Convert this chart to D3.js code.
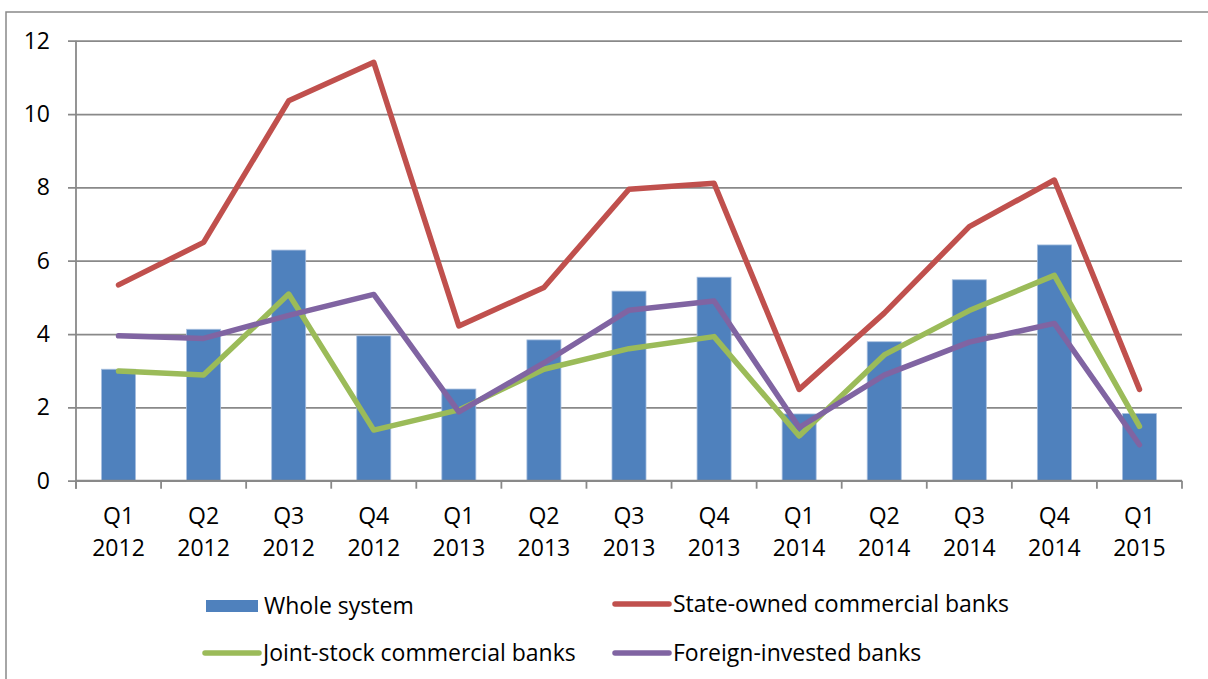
<!DOCTYPE html>
<html>
<head>
<meta charset="utf-8">
<script src="https://cdn.jsdelivr.net/npm/d3@7"></script>
<style>
  html, body { margin: 0; padding: 0; background: #fff; }
  svg { display: block; }
  text { font-family: "Open Sans", "Noto Sans", sans-serif; fill: #000; }
</style>
</head>
<body>
<script>
// Quarterly indicator by bank group, Q1 2012 – Q1 2015
const quarters = ["Q1 2012", "Q2 2012", "Q3 2012", "Q4 2012",
                  "Q1 2013", "Q2 2013", "Q3 2013", "Q4 2013",
                  "Q1 2014", "Q2 2014", "Q3 2014", "Q4 2014",
                  "Q1 2015"];
const wholeSystem = [3.04, 4.13, 6.29, 3.95, 2.50, 3.84, 5.17, 5.55, 1.82, 3.79, 5.48, 6.43, 1.83];
const stateOwned  = [5.34, 6.50, 10.36, 11.41, 4.22, 5.27, 7.95, 8.11, 2.49, 4.57, 6.93, 8.20, 2.49];
const jointStock  = [2.99, 2.88, 5.09, 1.38, 1.93, 3.04, 3.60, 3.93, 1.22, 3.43, 4.64, 5.60, 1.48];
const foreignInv  = [3.95, 3.88, 4.51, 5.08, 1.88, 3.21, 4.65, 4.90, 1.45, 2.88, 3.78, 4.29, 0.98];
const yTicks = [0, 2, 4, 6, 8, 10, 12];

const lineSeries = [
  { name: "State-owned commercial banks", values: stateOwned, color: "#C0504D" },
  { name: "Joint-stock commercial banks", values: jointStock, color: "#9BBB59" },
  { name: "Foreign-invested banks",       values: foreignInv, color: "#8064A2" }
];
const barColor = "#4F81BD";
const gridColor = "#898989";
const fontSize = 23;

const W = 1208, H = 679;
const plot = { left: 76, right: 1182, top: 40.7, bottom: 480.7 };

const svg = d3.select("body").append("svg")
  .attr("width", W).attr("height", H);

// Chart frame
svg.append("rect")
  .attr("x", 6).attr("y", 12)
  .attr("width", W + 20).attr("height", H + 20)
  .attr("fill", "none").attr("stroke", gridColor).attr("stroke-width", 1.5);

const x = d3.scaleBand().domain(quarters)
  .range([plot.left, plot.right]).paddingInner(0).paddingOuter(0);
const y = d3.scaleLinear().domain([0, 12]).range([plot.bottom, plot.top]);

// Y axis with gridlines that run across the plot
const yAxis = svg.append("g")
  .attr("transform", `translate(${plot.left},0)`)
  .call(d3.axisLeft(y).tickValues(yTicks)
    .tickSize(-(plot.right - plot.left)).tickSizeOuter(0).tickPadding(26));
yAxis.select(".domain").remove();
yAxis.selectAll(".tick line")
  .attr("x1", -8)
  .attr("stroke", gridColor).attr("stroke-width", 1.8);
yAxis.selectAll(".tick text")
  .attr("font-size", fontSize)
  .attr("font-family", "'Open Sans', sans-serif")
  .attr("fill", "#000");

// Vertical axis line
svg.append("line")
  .attr("x1", plot.left).attr("x2", plot.left)
  .attr("y1", plot.top).attr("y2", plot.bottom + 8)
  .attr("stroke", gridColor).attr("stroke-width", 1.8);

// Bars
svg.append("g").selectAll("rect")
  .data(quarters)
  .join("rect")
  .attr("x", d => x(d) + x.bandwidth() * 0.3)
  .attr("width", x.bandwidth() * 0.4)
  .attr("y", (d, i) => y(wholeSystem[i]))
  .attr("height", (d, i) => y(0) - y(wholeSystem[i]))
  .attr("fill", barColor)
  .attr("stroke", "#a7bfdf").attr("stroke-width", 0.8);

// X axis: baseline and tick marks at category boundaries
svg.append("line")
  .attr("x1", plot.left).attr("x2", plot.right)
  .attr("y1", plot.bottom).attr("y2", plot.bottom)
  .attr("stroke", gridColor).attr("stroke-width", 1.8);
const boundaries = quarters.map(q => x(q)).concat([x(quarters[quarters.length - 1]) + x.bandwidth()]);
svg.append("g").selectAll("line")
  .data(boundaries)
  .join("line")
  .attr("x1", d => d).attr("x2", d => d)
  .attr("y1", plot.bottom).attr("y2", plot.bottom + 8)
  .attr("stroke", gridColor).attr("stroke-width", 1.8);

// Two-line category labels
const xLabels = svg.append("g").selectAll("text")
  .data(quarters)
  .join("text")
  .attr("text-anchor", "middle")
  .attr("font-size", fontSize);
xLabels.append("tspan")
  .attr("x", d => x(d) + x.bandwidth() / 2)
  .attr("y", 524)
  .text(d => d.split(" ")[0]);
xLabels.append("tspan")
  .attr("x", d => x(d) + x.bandwidth() / 2)
  .attr("y", 556)
  .text(d => d.split(" ")[1]);

// Lines
const line = d3.line()
  .x((d, i) => x(quarters[i]) + x.bandwidth() / 2)
  .y(d => y(d));
svg.append("g").selectAll("path")
  .data(lineSeries)
  .join("path")
  .attr("d", d => line(d.values))
  .attr("fill", "none")
  .attr("stroke", d => d.color)
  .attr("stroke-width", 5.5)
  .attr("stroke-linejoin", "round")
  .attr("stroke-linecap", "round");

// Legend
const legend = svg.append("g");
const legendItems = [
  { name: "Whole system", type: "bar", color: barColor, x: 206, y: 606 },
  { name: lineSeries[0].name, type: "line", color: lineSeries[0].color, x: 615, y: 604 },
  { name: lineSeries[1].name, type: "line", color: lineSeries[1].color, x: 205, y: 653 },
  { name: lineSeries[2].name, type: "line", color: lineSeries[2].color, x: 615, y: 653 }
];
legendItems.forEach(it => {
  const g = legend.append("g");
  if (it.type === "bar") {
    g.append("rect")
      .attr("x", it.x).attr("y", it.y - 6)
      .attr("width", 52).attr("height", 12)
      .attr("fill", it.color);
  } else {
    g.append("line")
      .attr("x1", it.x).attr("x2", it.x + 54)
      .attr("y1", it.y).attr("y2", it.y)
      .attr("stroke", it.color).attr("stroke-width", 5.5)
      .attr("stroke-linecap", "round");
  }
  g.append("text")
    .attr("x", it.x + 58)
    .attr("y", it.y + 8)
    .attr("font-size", fontSize)
    .text(it.name);
});
</script>
</body>
</html>
